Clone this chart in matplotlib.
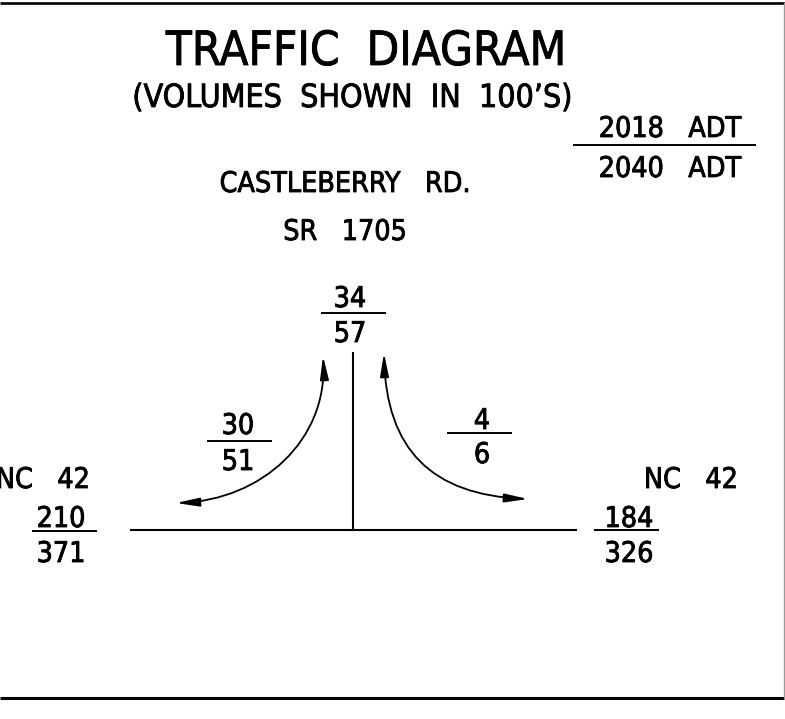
import matplotlib
matplotlib.use("Agg")
import matplotlib.pyplot as plt
from matplotlib.patches import FancyArrowPatch
from matplotlib.path import Path
import matplotlib.patheffects as pe

# ---- data ----
title = "TRAFFIC  DIAGRAM"
subtitle = "(VOLUMES  SHOWN  IN  100\u2019S)"
legend_top = "2018   ADT"
legend_bottom = "2040   ADT"
road_minor = ["CASTLEBERRY   RD.", "SR   1705"]
road_major = "NC   42"
# approach volumes (2018 ADT, 2040 ADT) in 100's
north_leg = (34, 57)
west_leg = (210, 371)
east_leg = (184, 326)
left_turn = (30, 51)    # west <-> north movement
right_turn = (4, 6)     # east <-> north movement

W, H = 785, 719
fig = plt.figure(figsize=(W / 100, H / 100), dpi=100)
ax = fig.add_axes([0, 0, 1, 1])
ax.set_xlim(0, W)
ax.set_ylim(H, 0)
ax.axis("off")

FONT = "DejaVu Sans"
NUM = 20.5
STRETCH = "condensed"
effects = [pe.withStroke(linewidth=0.6, foreground="black")]


def txt(x, y, s, size=NUM, ha="center"):
    ax.text(x, y, s, fontsize=size, ha=ha, va="baseline", family=FONT,
            fontstretch=STRETCH, color="black", path_effects=effects)


def frac(xc, y_top, y_bot, y_line, x0, x1, vals):
    txt(xc, y_top, str(vals[0]))
    txt(xc, y_bot, str(vals[1]))
    ax.plot([x0, x1], [y_line, y_line], color="black", lw=1.4, solid_capstyle="butt")


# frame
ax.plot([0, W], [3, 3], color="black", lw=1.9, solid_capstyle="butt")
ax.plot([0, 784], [698, 698], color="black", lw=2.2, solid_capstyle="butt")
ax.plot([783.5, 783.5], [3, 698], color="#9a9a9a", lw=1.0)

# titles
txt(366, 65, title, size=34)
txt(353, 107, subtitle, size=23)

# legend
frac(670, 137, 177, 144.5, 573, 756, (legend_top, legend_bottom))

# minor road names
txt(345, 192, road_minor[0])
txt(345, 240, road_minor[1])

# road lines
ax.plot([130, 577], [530, 530], color="black", lw=1.5, solid_capstyle="butt")
ax.plot([353, 353], [352, 530], color="black", lw=1.5, solid_capstyle="butt")

# north leg volumes
frac(350, 307, 342, 313, 321, 386, north_leg)

# west leg
txt(90, 488, road_major, ha="right")
frac(61, 527, 562, 531, 32, 97, west_leg)

# east leg
txt(738, 488, road_major, ha="right")
frac(629, 527, 562, 530, 594, 659, east_leg)

# turning movement volumes
frac(238, 434, 470, 441, 207, 272, left_turn)
frac(482, 429, 463, 433, 447, 512, right_turn)

# turning arcs
codes = [Path.MOVETO, Path.CURVE4, Path.CURVE4, Path.CURVE4]
left_arc = Path([(323, 356), (328, 440), (262, 500), (176, 503)], codes)
right_arc = Path([(384, 353), (386, 450), (432, 495), (528, 499)], codes)
for p in (left_arc, right_arc):
    a = FancyArrowPatch(path=p, arrowstyle="<|-|>,head_length=14,head_width=2.6",
                        mutation_scale=1, color="black", lw=1.3,
                        shrinkA=0, shrinkB=0, transform=ax.transData)
    ax.add_patch(a)

fig.savefig("out.png", dpi=100, facecolor="white")
